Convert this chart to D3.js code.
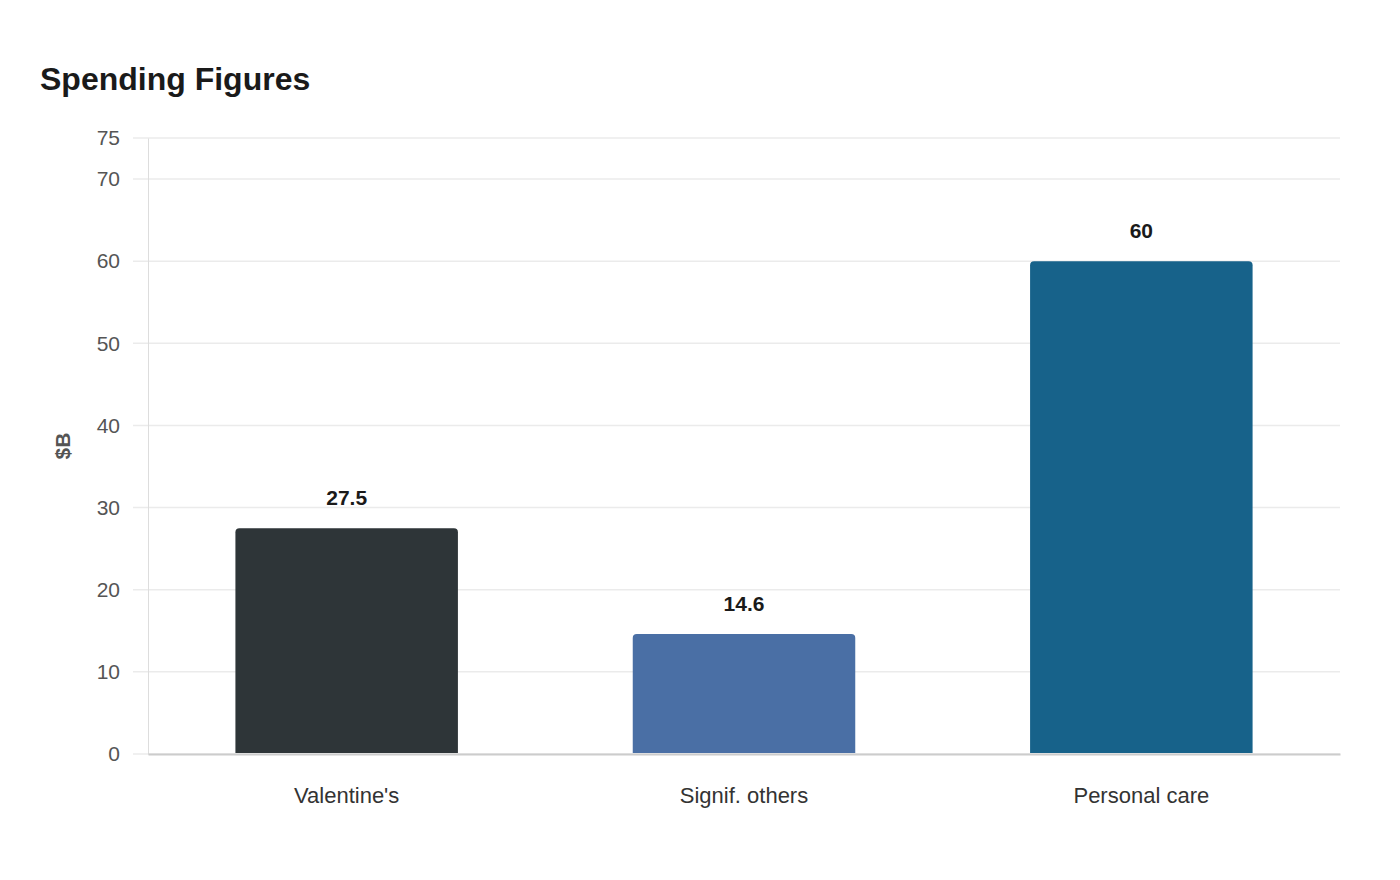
<!DOCTYPE html>
<html><head><meta charset="utf-8">
<script src="https://cdn.jsdelivr.net/npm/d3@7"></script>
<style>body{margin:0;background:#fff;font-family:"Liberation Sans",Arial,sans-serif;}</style>
</head><body>
<svg id="c" width="1400" height="880"></svg>
<script>
const categories = ["Valentine's", "Signif. others", "Personal care"];
const values = [27.5, 14.6, 60];
const colors = ["#2e3538", "#4a6fa5", "#17628a"];
const yTicks = [0, 10, 20, 30, 40, 50, 60, 70, 75];

const svg = d3.select("#c");
const m = {l:148, r:60, t:138, b:126};
const W = 1400, H = 880;
const x = d3.scaleBand().domain(categories).range([m.l, W - m.r]).paddingInner(0.44).paddingOuter(0.22);
const y = d3.scaleLinear().domain([0, 75]).range([H - m.b, m.t]);

svg.append("text").attr("x", 40).attr("y", 90).text("Spending Figures")
  .attr("font-size", 32).attr("font-weight", "bold").attr("fill", "#1a1a1a");

// grid
svg.append("g").selectAll("line").data(yTicks).join("line")
  .attr("x1", 133).attr("x2", W - m.r)
  .attr("y1", d => y(d)).attr("y2", d => y(d))
  .attr("stroke", "#ebebeb").attr("stroke-width", 1.5);

// y axis
const ya = svg.append("g").attr("transform", `translate(${m.l},0)`)
  .call(d3.axisLeft(y).tickValues(yTicks).tickSize(0).tickPadding(28));
ya.select(".domain").attr("stroke", "#dddddd").attr("stroke-width", 1);
ya.selectAll("text").attr("font-size", 21).attr("fill", "#555").attr("font-family", "Liberation Sans, Arial, sans-serif");

svg.append("text").attr("transform", `translate(70,${y(37.5)}) rotate(-90)`)
  .attr("text-anchor", "middle").attr("font-size", 21).attr("font-weight", "bold").attr("fill", "#555").text("$B");

// bars with rounded top
const r = 4;
svg.append("g").selectAll("path").data(categories).join("path")
  .attr("d", (c, i) => {
    const x0 = x(c), x1 = x(c) + x.bandwidth(), y0 = y(values[i]), yb = y(0) - 1;
    return `M${x0},${yb}V${y0 + r}Q${x0},${y0} ${x0 + r},${y0}H${x1 - r}Q${x1},${y0} ${x1},${y0 + r}V${yb}Z`;
  })
  .attr("fill", (c, i) => colors[i]);

// value labels
svg.append("g").selectAll("text").data(categories).join("text")
  .attr("x", c => x(c) + x.bandwidth() / 2)
  .attr("y", (c, i) => y(values[i]) - 23)
  .attr("text-anchor", "middle").attr("font-size", 21).attr("font-weight", "bold").attr("fill", "#1a1a1a")
  .text((c, i) => values[i]);

// x axis
const xa = svg.append("g").attr("transform", `translate(0,${y(0)})`)
  .call(d3.axisBottom(x).tickSize(0).tickPadding(33));
xa.select(".domain").attr("stroke", "#cccccc").attr("stroke-width", 2);
xa.selectAll("text").attr("font-size", 22).attr("fill", "#333").attr("font-family", "Liberation Sans, Arial, sans-serif");
</script>
</body></html>
